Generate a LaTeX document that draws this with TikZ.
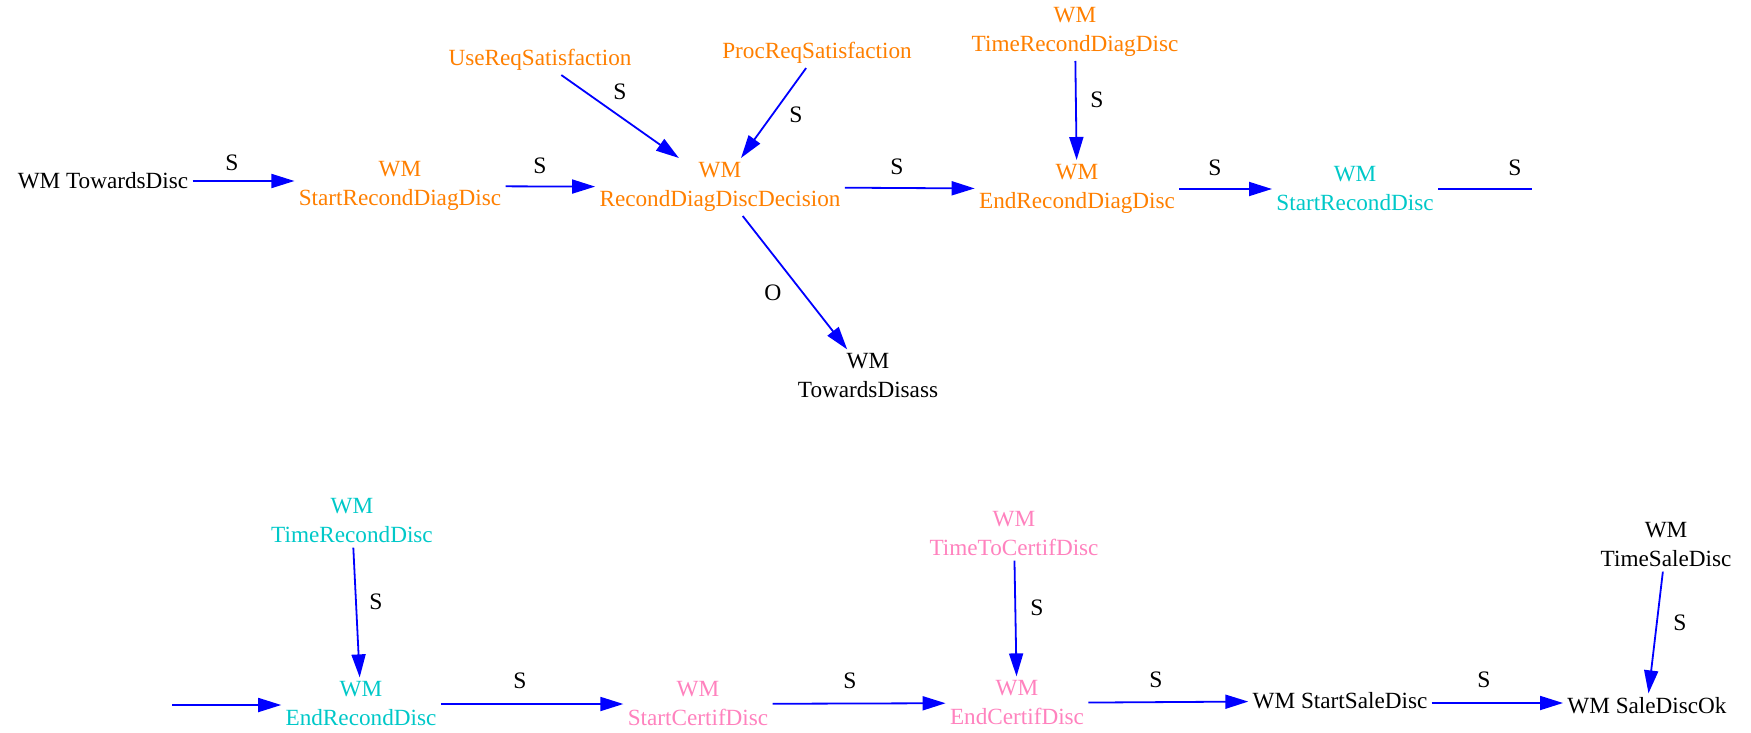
\documentclass[tikz,border=0pt]{standalone}
\usepackage{fontspec}
\setmainfont{Liberation Serif}
\usetikzlibrary{arrows.meta}
\definecolor{cor}{HTML}{FF7F00}
\definecolor{ccy}{HTML}{00C8C8}
\definecolor{cpk}{HTML}{FF82BE}
\begin{document}
\begin{tikzpicture}[x=0.5pt,y=-0.5pt,
  txt/.style={font=\fontsize{11.6}{14.5}\selectfont, align=center, inner sep=2pt},
  ora/.style={txt, text=cor},
  cya/.style={txt, text=ccy},
  pnk/.style={txt, text=cpk},
  blk/.style={txt, text=black},
  elbl/.style={font=\fontsize{11.8}{14}\selectfont, inner sep=0pt},
  conn/.style={draw=blue, line width=0.9pt},
  edge/.style={conn, -{Triangle[length=11.5pt,width=7pt]}}]
\useasboundingbox (0,0) rectangle (1751,733);
% top row
\node[blk] (td)   at (103,181) {WM TowardsDisc};
\node[ora] (srdd) at (400,186) {WM\\StartRecondDiagDisc};
\node[ora] (rddd) at (720,187) {WM\\RecondDiagDiscDecision};
\node[ora] (use)  at (540,60)  {UseReqSatisfaction};
\node[ora] (proc) at (817,53)  {ProcReqSatisfaction};
\node[ora] (trdd) at (1075,32) {WM\\TimeRecondDiagDisc};
\node[ora] (erdd) at (1077,189) {WM\\EndRecondDiagDisc};
\node[cya] (srd)  at (1355,189) {WM\\StartRecondDisc};
\node[blk] (tdis) at (868,376) {WM\\TowardsDisass};
\coordinate (wa) at (1532,189);
% bottom row
\coordinate (wb) at (172,705);
\node[cya] (trd)  at (352,521) {WM\\TimeRecondDisc};
\node[cya] (erd)  at (361,704) {WM\\EndRecondDisc};
\node[pnk] (scd)  at (698,704) {WM\\StartCertifDisc};
\node[pnk] (ttcd) at (1014,534) {WM\\TimeToCertifDisc};
\node[pnk] (ecd)  at (1017,703) {WM\\EndCertifDisc};
\node[blk] (ssd)  at (1340,701) {WM StartSaleDisc};
\node[blk] (sdo)  at (1647,706) {WM SaleDiscOk};
\node[blk] (tsd)  at (1666,545) {WM\\TimeSaleDisc};
% edges
\draw[edge] (td.east) -- (td.east -| srdd.west);
\draw[edge] (srdd) -- (rddd);
\draw[edge] (use) -- (rddd);
\draw[edge] (proc) -- (rddd);
\draw[edge] (rddd) -- (erdd);
\draw[edge] (trdd) -- (erdd);
\draw[edge] (erdd) -- (srd);
\draw[conn] (srd) -- (wa);
\draw[edge] (rddd) -- (tdis);
\draw[edge] (wb) -- (wb -| erd.west);
\draw[edge] (trd) -- (erd);
\draw[edge] (erd) -- (scd);
\draw[edge] (scd) -- (ecd);
\draw[edge] (ttcd) -- (ecd);
\draw[edge] (ecd) -- (ssd);
\draw[edge] ([yshift=-1pt]ssd.east) -- ([yshift=-1pt]ssd.east -| sdo.west);
\draw[edge] (tsd) -- (sdo);
% edge labels
\node[elbl] (l1)  at (232,163) {S};
\node[elbl] (l2)  at (540,166) {S};
\node[elbl] (l3)  at (620,92)  {S};
\node[elbl] (l4)  at (796,115) {S};
\node[elbl] (l5)  at (897,167) {S};
\node[elbl] (l6)  at (1097,100) {S};
\node[elbl] (l7)  at (1215,168) {S};
\node[elbl] (l8)  at (1515,168) {S};
\node[elbl] (lo)  at (773,293) {O};
\node[elbl] (l9)  at (376,602) {S};
\node[elbl] (l10) at (520,681) {S};
\node[elbl] (l11) at (850,681) {S};
\node[elbl] (l12) at (1037,608) {S};
\node[elbl] (l13) at (1156,680) {S};
\node[elbl] (l14) at (1484,680) {S};
\node[elbl] (l15) at (1680,623) {S};
\end{tikzpicture}
\end{document}
